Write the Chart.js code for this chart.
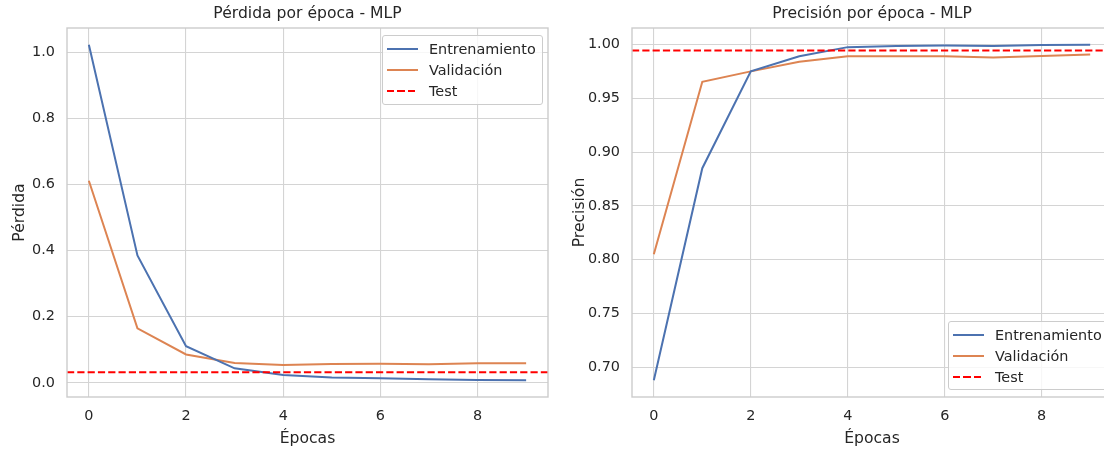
<!DOCTYPE html>
<html>
<head>
<meta charset="utf-8">
<script src="https://cdn.jsdelivr.net/npm/chart.js@4.4.1/dist/chart.umd.min.js"></script>
<style>
html,body{margin:0;padding:0;background:#fff;width:1104px;height:450px;overflow:hidden}
.panel{position:absolute;top:0;height:450px;width:560px}
.legend{position:absolute;background:rgba(255,255,255,.8);border:1px solid #cccccc;border-radius:3px;font:14.4px "DejaVu Sans";color:#262626;box-sizing:border-box}
.legend .row{position:absolute;left:0;right:0;height:20px;line-height:20px}
.legend .h{position:absolute;left:4px;top:9px;width:31px;height:2px}
.legend .t{position:absolute;left:46px;top:0;white-space:nowrap}
</style>
</head>
<body>
<div class="panel" style="left:0">
  <canvas id="cPerdida" width="560" height="450"></canvas>
  <div class="legend" id="legPerdida" style="left:382px;top:35px;width:161px;height:70px"></div>
</div>
<div class="panel" style="left:560px">
  <canvas id="cPrecision" width="560" height="450"></canvas>
  <div class="legend" id="legPrecision" style="left:388px;top:321px;width:162px;height:69px"></div>
</div>
<script>
const epocas = [0,1,2,3,4,5,6,7,8,9];
const perdidaEntrenamiento = [1.022,0.385,0.111,0.044,0.024,0.016,0.014,0.011,0.009,0.008];
const perdidaValidacion = [0.611,0.165,0.086,0.060,0.054,0.057,0.058,0.056,0.059,0.059];
const perdidaTest = 0.032;
const precisionEntrenamiento = [0.688,0.885,0.975,0.989,0.9975,0.9985,0.999,0.9986,0.9994,0.9997];
const precisionValidacion = [0.805,0.9653,0.975,0.9839,0.9891,0.989,0.989,0.9879,0.9893,0.9907];
const precisionTest = 0.9944;
const ticksX = [0,2,4,6,8];
const ticksPerdida = [0,0.2,0.4,0.6,0.8,1.0];
const ticksPrecision = [0.70,0.75,0.80,0.85,0.90,0.95,1.00];
const nombres = ['Entrenamiento','Validación','Test'];
const colores = ['#4c72b0','#dd8452','red'];

const FUENTE = '"DejaVu Sans"';
const TXT = '#262626';
const T_TICK = 14.4, T_ETQ = 15.6;

// margenes de 5% como matplotlib
function limites(vals){
  const lo = Math.min(...vals), hi = Math.max(...vals), m = (hi - lo) * 0.05;
  return [lo - m, hi + m];
}

const extras = {
  id:'extras',
  afterDatasetsDraw(chart, args, o){
    const {ctx, chartArea:a, scales:{y}} = chart;
    const py = y.getPixelForValue(o.test);
    ctx.save();
    ctx.strokeStyle = 'red'; ctx.lineWidth = 2; ctx.setLineDash([7.2,3.1]);
    ctx.beginPath(); ctx.moveTo(a.left, py); ctx.lineTo(a.right, py); ctx.stroke();
    ctx.restore();
  },
  afterDraw(chart, args, o){
    const {ctx, chartArea:a} = chart;
    ctx.save();
    ctx.strokeStyle = '#cccccc'; ctx.lineWidth = 1.4;
    ctx.strokeRect(a.left, a.top, a.right - a.left, a.bottom - a.top);
    ctx.fillStyle = TXT; ctx.font = T_ETQ + 'px ' + FUENTE;
    ctx.textAlign = 'center'; ctx.textBaseline = 'middle';
    ctx.fillText(o.titulo, (a.left + a.right) / 2, 14);
    ctx.restore();
  }
};

function grafico(id, entr, valid, test, ticksY, dec, titulo, etiquetaY, anchoY, padDer){
  const [xmin, xmax] = limites(epocas);
  const [ymin, ymax] = limites([...entr, ...valid, test]);
  const linea = (label, data, color) => ({
    label, data: epocas.map((e,i)=>({x:e, y:data[i]})),
    borderColor: color, borderWidth: 2, pointRadius: 0, tension: 0, fill: false
  });
  return new Chart(document.getElementById(id), {
    type: 'line',
    data: { datasets: [linea(nombres[0], entr, colores[0]), linea(nombres[1], valid, colores[1])] },
    plugins: [extras],
    options: {
      responsive: false, animation: false, events: [],
      layout: { padding: { top: 28, right: padDer, bottom: 0, left: 0 } },
      plugins: { legend: { display: false }, tooltip: { enabled: false }, title: { display: false },
                 extras: { test, titulo } },
      scales: {
        x: {
          type: 'linear', min: xmin, max: xmax,
          afterBuildTicks: s => { s.ticks = ticksX.map(v => ({value: v})); },
          afterFit: s => { s.height = 53; },
          grid: { color: '#d4d4d4', lineWidth: 1.1, drawTicks: false },
          border: { display: false },
          ticks: { color: TXT, font: { family: FUENTE, size: T_TICK }, padding: 11, maxRotation: 0,
                   callback: v => String(v) },
          title: { display: true, text: 'Épocas', color: TXT, font: { family: FUENTE, size: T_ETQ },
                   padding: { top: 0, bottom: 2 } }
        },
        y: {
          type: 'linear', min: ymin, max: ymax,
          afterBuildTicks: s => { s.ticks = ticksY.map(v => ({value: v})); },
          afterFit: s => { s.width = anchoY; },
          grid: { color: '#d4d4d4', lineWidth: 1.1, drawTicks: false },
          border: { display: false },
          ticks: { color: TXT, font: { family: FUENTE, size: T_TICK }, padding: 12,
                   callback: v => Number(v).toFixed(dec) },
          title: { display: true, text: etiquetaY, color: TXT, font: { family: FUENTE, size: T_ETQ },
                   padding: { top: 11, bottom: 0 } }
        }
      }
    }
  });
}

function leyenda(id){
  const el = document.getElementById(id);
  el.innerHTML = nombres.map((n, i) => {
    const bg = i === 2
      ? 'repeating-linear-gradient(90deg, red 0 7.4px, transparent 7.4px 10.4px)'
      : colores[i];
    return `<div class="row" style="top:${2.5 + i * 21.2}px"><div class="h" style="background:${bg}"></div><div class="t">${n}</div></div>`;
  }).join('');
}

grafico('cPerdida', perdidaEntrenamiento, perdidaValidacion, perdidaTest, ticksPerdida, 1,
        'Pérdida por época - MLP', 'Pérdida', 67, 12);
grafico('cPrecision', precisionEntrenamiento, precisionValidacion, precisionTest, ticksPrecision, 2,
        'Precisión por época - MLP', 'Precisión', 72, 8);
leyenda('legPerdida');
leyenda('legPrecision');
</script>
</body>
</html>
